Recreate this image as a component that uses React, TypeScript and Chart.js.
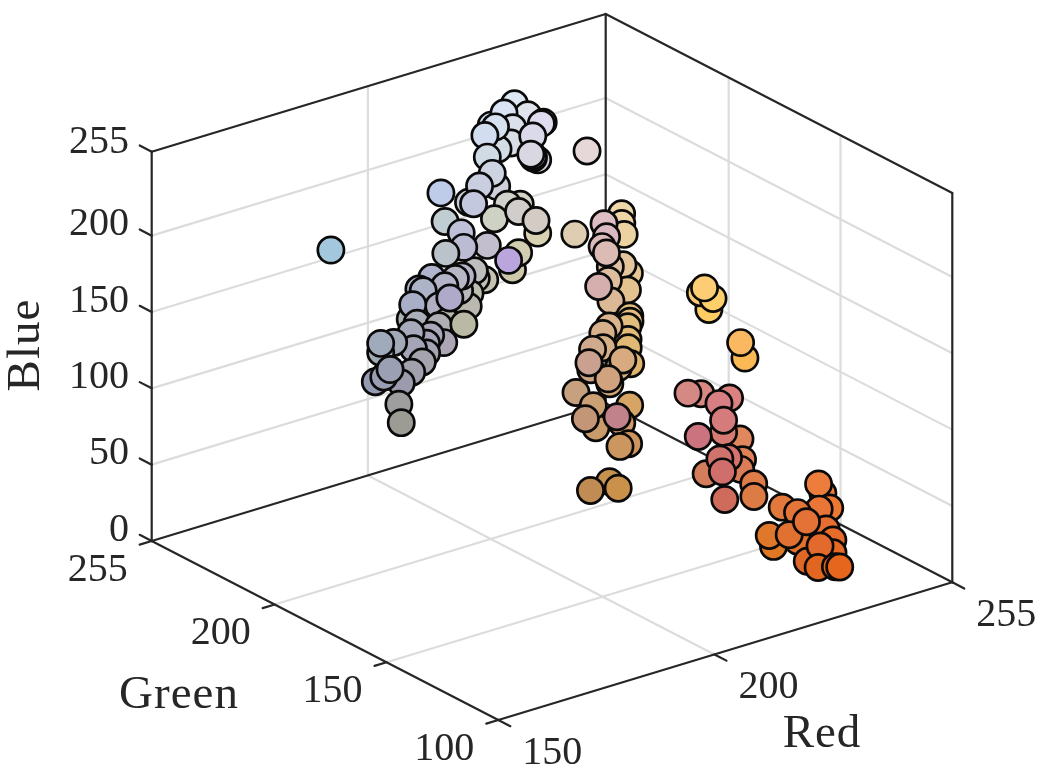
import React, { useEffect, useRef } from "react";
import { Chart, registerables } from "chart.js";

Chart.register(...registerables);

// Each mark is one colour sample: its axis values are also its fill colour.
const red = [
  196,193,191,190,187,185,183,183,176,179,173,174,175,182,171,169,170,175,171,169,167,166,166,164,162,159,159,165,161,156,150,153,156,157,156,175,186,
  222,223,224,222,213,217,218,216,212,214,210,219,216,215,216,217,230,206,209,206,
  213,209,200,201,190,206,196,209,216,212,222,192,189,194,187,187,205,209,186,163,
  238,237,236,231,229,224,221,219,219,220,229,222,220,212,228,227,226,225,224,222,217,214,213,208,214,215,212,205,208,202,214,199,207,201,203,196,193,206,204,199,192,201,
  253,250,255,252,251,250,
  216,213,219,215,224,214,214,204,222,219,211,211,209,207,206,222,221,
  238,237,237,233,226,228,224,223,231,231,230,226,224,228,223,227,225,229,230,
];
const green = [
  195,193,190,190,185,185,180,183,180,180,180,180,175,185,180,175,175,175,165,167,165,163,170,165,170,170,170,163,160,155,155,157,160,158,155,170,185,
  232,228,223,220,225,227,225,222,220,225,222,218,210,210,212,215,215,209,219,211,
  212,210,210,207,203,210,200,205,210,203,205,205,192,190,187,195,200,205,165,200,
  215,213,210,198,197,193,190,185,187,187,195,190,185,175,192,190,189,187,185,180,180,177,175,170,170,170,170,165,163,160,165,160,155,155,160,150,130,150,150,145,140,145,
  205,203,207,205,185,185,
  137,137,130,127,135,123,123,115,130,125,125,115,115,110,107,125,123,
  125,125,120,117,120,117,120,120,110,107,105,113,113,113,103,105,102,102,102,
];
const blue = [
  177,182,191,177,175,187,202,198,207,199,202,200,193,169,184,199,186,180,180,185,183,179,187,182,184,180,186,174,173,174,180,179,179,157,148,202,164,
  242,237,235,238,241,244,235,229,230,239,239,234,227,229,228,226,217,219,228,226,
  199,204,213,225,233,197,223,203,179,196,177,211,216,205,212,202,172,176,221,221,
  169,165,161,149,157,163,196,193,185,180,142,158,150,174,128,127,125,119,116,111,140,140,133,140,123,127,114,133,126,144,102,127,104,106,115,120,139,95,95,80,84,74,
  101,116,105,116,86,97,
  129,132,129,131,94,116,124,128,86,86,90,108,109,106,91,74,68,
  54,61,49,54,59,56,35,43,48,43,37,42,48,53,39,44,34,31,30,
];

const blueTicks = [0, 50, 100, 150, 200, 255];
const greenTicks = [255, 200, 150, 100];
const redTicks = [150, 200, 255];
const axisTitles = ["Red", "Green", "Blue"];

// View of the RGB cube: the scales below run over the canvas and these are the cube's edge vectors.
const project = (r: number, g: number, b: number) => ({
  x: 151.7 + ((r - 150) / 105) * 454 + ((255 - g) / 155) * 346.6,
  y: 541 - ((r - 150) / 105) * 137.7 + ((255 - g) / 155) * 179 - (b / 255) * 389.3,
});

const INK = "#262626";
const GRID = "#dcdcdc";
const FONT = '"Liberation Serif", serif';

type P = { x: number; y: number };
const seg = (a: P, b: P, color: string, order: number) => ({
  type: "scatter" as const,
  data: [a, b],
  showLine: true,
  borderColor: color,
  borderWidth: 2.2,
  pointRadius: 0,
  order,
  clip: false,
  borderCapStyle: "round",
});

function buildLines() {
  const out: any[] = [];
  for (const b of blueTicks.slice(1, 5)) {
    out.push(seg(project(150, 255, b), project(255, 255, b), GRID, 3));
    out.push(seg(project(255, 255, b), project(255, 100, b), GRID, 3));
  }
  out.push(seg(project(200, 100, 0), project(200, 255, 0), GRID, 3));
  out.push(seg(project(200, 255, 0), project(200, 255, 255), GRID, 3));
  for (const g of greenTicks.slice(1, 3)) {
    out.push(seg(project(150, g, 0), project(255, g, 0), GRID, 3));
    out.push(seg(project(255, g, 0), project(255, g, 255), GRID, 3));
  }
  const edges: number[][][] = [
    [[150, 255, 255], [150, 255, 0]],
    [[150, 255, 255], [255, 255, 255]],
    [[255, 255, 255], [255, 100, 255]],
    [[255, 100, 255], [255, 100, 0]],
    [[255, 255, 255], [255, 255, 0]],
    [[150, 255, 0], [255, 255, 0]],
    [[255, 255, 0], [255, 100, 0]],
    [[150, 255, 0], [150, 100, 0]],
    [[150, 100, 0], [255, 100, 0]],
  ];
  for (const [a, b] of edges) {
    out.push(seg(project(a[0], a[1], a[2]), project(b[0], b[1], b[2]), INK, 2));
  }
  const tick = (p: P, dx: number, dy: number) =>
    out.push(seg(p, { x: p.x + dx, y: p.y + dy }, INK, 2));
  for (const b of blueTicks) tick(project(150, 255, b), -12, -6.2);
  for (const g of greenTicks) tick(project(150, g, 0), -12, 3.6);
  for (const r of redTicks) tick(project(r, 100, 0), 12, 6.2);
  return out;
}

const labelPlugin = {
  id: "cubeLabels",
  afterDraw(chart: any) {
    const { ctx } = chart;
    ctx.save();
    ctx.fillStyle = INK;
    ctx.textBaseline = "middle";
    ctx.font = `40px ${FONT}`;
    for (const b of blueTicks) {
      const p = project(150, 255, b);
      ctx.textAlign = "right";
      ctx.fillText(String(b), 129, p.y - 11 + (b === 255 ? 2 : 0));
    }
    ctx.textAlign = "center";
    for (const g of greenTicks) {
      const p = project(150, g, 0);
      ctx.fillText(String(g), p.x - 54, p.y + 29);
    }
    for (const r of redTicks) {
      const p = project(r, 100, 0);
      ctx.fillText(String(r), p.x + 54, p.y + 33);
    }
    ctx.font = `47px ${FONT}`;
    ctx.letterSpacing = "1px";
    ctx.fillText(axisTitles[0], 822, 735);
    ctx.fillText(axisTitles[1], 179, 696);
    ctx.translate(27, 345);
    ctx.rotate(-Math.PI / 2);
    ctx.fillText(axisTitles[2], 0, 0);
    ctx.restore();
  },
};

export default function App() {
  const ref = useRef<HTMLCanvasElement | null>(null);
  useEffect(() => {
    document.body.style.margin = "0";
    document.body.style.background = "#fff";
    const points = red.map((r, i) => project(r, green[i], blue[i]));
    const fills = red.map((r, i) => `rgb(${r},${green[i]},${blue[i]})`);
    const chart = new Chart(ref.current as HTMLCanvasElement, {
      type: "scatter",
      data: {
        datasets: [
          {
            data: points,
            pointRadius: 13.1,
            pointHoverRadius: 13.1,
            pointBackgroundColor: fills,
            pointBorderColor: "#0a0a0a",
            pointBorderWidth: 2.7,
            showLine: false,
            order: 1,
            clip: false,
          } as any,
          ...buildLines(),
        ],
      },
      options: {
        animation: false,
        responsive: false,
        layout: { padding: 0, autoPadding: false },
        events: [],
        scales: {
          x: { type: "linear", min: 0, max: 1038, display: false },
          y: { type: "linear", min: 0, max: 780, reverse: true, display: false },
        },
        plugins: { legend: { display: false }, tooltip: { enabled: false } },
      },
      plugins: [labelPlugin],
    } as any);
    return () => chart.destroy();
  }, []);
  return <canvas ref={ref} width={1038} height={780} style={{ display: "block" }} />;
}
